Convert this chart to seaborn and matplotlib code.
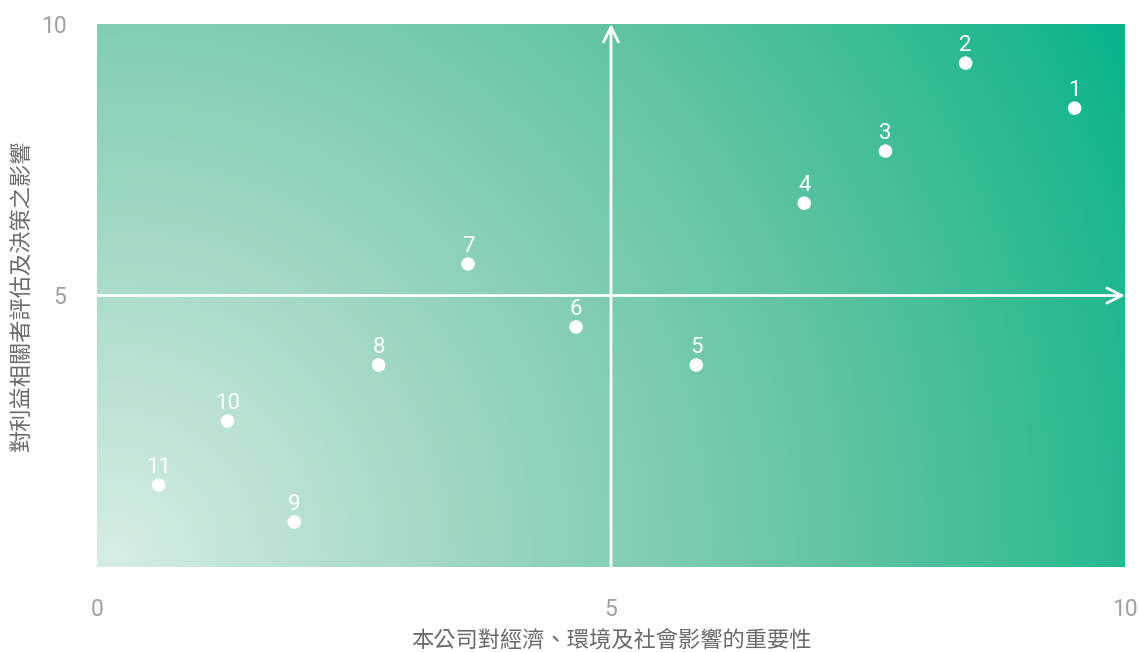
import numpy as np
import pandas as pd
import seaborn as sns
from matplotlib import pyplot as plt
from matplotlib.colors import LinearSegmentedColormap


# issue id, importance to company (x), stakeholder concern (y)
issue_ids = ["1", "2", "3", "4", "5", "6", "7", "8", "9", "10", "11"]
impact_x = [9.51, 8.45, 7.67, 6.88, 5.83, 4.66, 3.61, 2.74, 1.92, 1.27, 0.60]
concern_y = [8.45, 9.28, 7.66, 6.70, 3.72, 4.42, 5.58, 3.72, 0.83, 2.69, 1.51]

x_ticks = [0, 5, 10]
y_ticks = [5, 10]
x_title = "本公司對經濟、環境及社會影響的重要性"
y_title = "對利益相關者評估及決策之影響"


def main():
    df = pd.DataFrame({"id": issue_ids, "x": impact_x, "y": concern_y})

    sns.set_theme(style="white")
    plt.rcParams["font.family"] = ["Roboto", "Noto Sans CJK TC", "DejaVu Sans"]

    fig = plt.figure(figsize=(11.4, 6.52), dpi=100)
    ax = fig.add_axes([97 / 1140, 85 / 652, 1028 / 1140, 543 / 652])

    # radial gradient from bottom-left corner, measured in pixel space
    w_px, h_px = 1028, 543
    gx, gy = np.meshgrid(np.linspace(0, w_px, 400), np.linspace(0, h_px, 220))
    dist = np.hypot(gx - 15, gy - 10) / np.hypot(w_px, h_px)
    cmap = LinearSegmentedColormap.from_list(
        "mat", ["#d6ede4", "#9ad5c0", "#5cc2a0", "#0bb48b"])
    ax.imshow(dist, cmap=cmap, vmin=0, vmax=0.98, origin="lower",
              extent=[0, 10, 0, 10], aspect="auto", zorder=0)

    arrow = dict(arrowstyle="->,head_length=0.9,head_width=0.45", color="white",
                 lw=2, shrinkA=0, shrinkB=0)
    ax.annotate("", xy=(10, 5), xytext=(0, 5), arrowprops=arrow, zorder=2)
    ax.annotate("", xy=(5, 10), xytext=(5, 0), arrowprops=arrow, zorder=2)

    sns.scatterplot(df, x="x", y="y", color="white", s=95, edgecolor="none",
                    ax=ax, zorder=3, legend=False)
    for _, r in df.iterrows():
        ax.annotate(r["id"], (r["x"], r["y"]), xytext=(0, 5), textcoords="offset points",
                    ha="center", va="bottom", color="white", fontsize=16, zorder=4)

    ax.set_xlim(0, 10)
    ax.set_ylim(0, 10)
    ax.set_xticks(x_ticks)
    ax.set_yticks(y_ticks)
    ax.tick_params(axis="both", length=0, labelsize=16.5, labelcolor="#a0a0a0")
    ax.tick_params(axis="x", pad=22)
    ax.tick_params(axis="y", pad=22)
    cjk = ["Noto Sans CJK TC", "DejaVu Sans"]
    ax.set_xlabel(x_title, fontsize=16, color="#6a6a6a", family=cjk, va="center",
                  fontweight="medium")
    ax.set_ylabel(y_title, fontsize=16, color="#6a6a6a", family=cjk, va="center",
                  fontweight="medium")
    ax.xaxis.set_label_coords(0.5, -0.134)
    ax.yaxis.set_label_coords(-0.073, 0.5)
    sns.despine(ax=ax, left=True, bottom=True)

    fig.savefig("out.png", dpi=100)


if __name__ == "__main__":
    main()
